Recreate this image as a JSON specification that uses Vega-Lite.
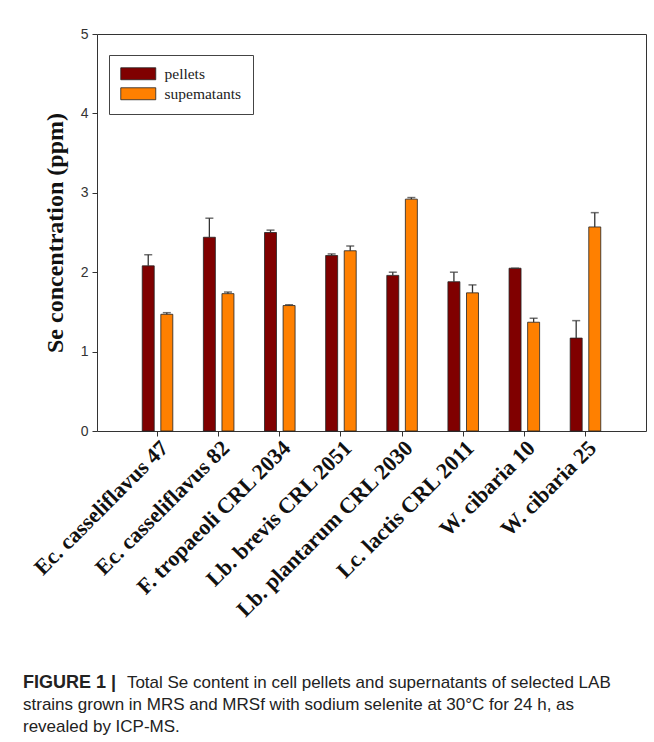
{
  "$schema": "https://vega.github.io/schema/vega-lite/v6.json",
  "autosize": {"type": "none"},
  "padding": {"left": 97, "top": 34, "right": 8, "bottom": 311},
  "width": 549,
  "height": 397,
  "background": "white",
  "data": {
    "values": [
      {"strain": "Ec. casseliflavus 47", "type": "pellets", "value": 2.08, "upper": 2.22},
      {"strain": "Ec. casseliflavus 47", "type": "supematants", "value": 1.47, "upper": 1.49},
      {"strain": "Ec. casseliflavus 82", "type": "pellets", "value": 2.44, "upper": 2.68},
      {"strain": "Ec. casseliflavus 82", "type": "supematants", "value": 1.73, "upper": 1.75},
      {"strain": "F. tropaeoli CRL 2034", "type": "pellets", "value": 2.5, "upper": 2.53},
      {"strain": "F. tropaeoli CRL 2034", "type": "supematants", "value": 1.58, "upper": 1.59},
      {"strain": "Lb. brevis CRL 2051", "type": "pellets", "value": 2.21, "upper": 2.23},
      {"strain": "Lb. brevis CRL 2051", "type": "supematants", "value": 2.27, "upper": 2.33},
      {"strain": "Lb. plantarum CRL 2030", "type": "pellets", "value": 1.96, "upper": 2.0},
      {"strain": "Lb. plantarum CRL 2030", "type": "supematants", "value": 2.92, "upper": 2.94},
      {"strain": "Lc. lactis CRL 2011", "type": "pellets", "value": 1.88, "upper": 2.0},
      {"strain": "Lc. lactis CRL 2011", "type": "supematants", "value": 1.74, "upper": 1.84},
      {"strain": "W. cibaria 10", "type": "pellets", "value": 2.05, "upper": 2.05},
      {"strain": "W. cibaria 10", "type": "supematants", "value": 1.37, "upper": 1.42},
      {"strain": "W. cibaria 25", "type": "pellets", "value": 1.17, "upper": 1.39},
      {"strain": "W. cibaria 25", "type": "supematants", "value": 2.57, "upper": 2.75}
    ]
  },
  "title": {
    "text": "FIGURE 1 |",
    "subtitle": [
      "\u200b\u2003\u2003\u2003\u2003\u2003\u00a0\u00a0\u00a0\u00a0Total Se content in cell pellets and supernatants of selected LAB",
      "strains grown in MRS and MRSf with sodium selenite at 30°C for 24 h, as",
      "revealed by ICP-MS."
    ],
    "orient": "bottom",
    "anchor": "start",
    "frame": "group",
    "dx": -74,
    "offset": 53,
    "font": "Liberation Sans",
    "fontSize": 18,
    "fontWeight": "bold",
    "color": "#222222",
    "subtitleFont": "Liberation Sans",
    "subtitleFontSize": 17,
    "subtitleFontWeight": "normal",
    "subtitleColor": "#222222",
    "subtitleLineHeight": 22,
    "subtitlePadding": -17.2
  },
  "encoding": {
    "x": {
      "field": "strain",
      "type": "nominal",
      "sort": null,
      "scale": {"paddingInner": 0.5, "paddingOuter": 0.74},
      "axis": {
        "title": null,
        "labelAngle": -45,
        "labelAlign": "right",
        "labelBaseline": "top",
        "labelFont": "Liberation Serif",
        "labelFontWeight": "bold",
        "labelFontSize": 22,
        "labelColor": "#111111",
        "labelPadding": 1,
        "labelOverlap": false,
        "labelLimit": 400,
        "tickColor": "#333333",
        "tickSize": 5,
        "domain": false
      }
    },
    "xOffset": {
      "field": "type",
      "type": "nominal",
      "sort": ["pellets", "supematants"],
      "scale": {"paddingInner": 0.355, "paddingOuter": 0}
    }
  },
  "layer": [
    {
      "mark": {"type": "bar", "stroke": "#222222", "strokeWidth": 0.8},
      "encoding": {
        "y": {
          "field": "value",
          "type": "quantitative",
          "scale": {"domain": [0, 5], "nice": false},
          "axis": {
            "title": "Se concentration (ppm)",
            "titleFont": "Liberation Serif",
            "titleFontWeight": "bold",
            "titleFontSize": 24,
            "titleColor": "#111111",
            "titlePadding": 13,
            "values": [0, 1, 2, 3, 4, 5],
            "format": "d",
            "labelFont": "Liberation Sans Narrow, Liberation Sans",
            "labelFontSize": 14,
            "labelColor": "#333333",
            "labelPadding": 4,
            "tickColor": "#333333",
            "tickSize": 5,
            "grid": false,
            "domain": false
          }
        },
        "color": {
          "field": "type",
          "type": "nominal",
          "sort": ["pellets", "supematants"],
          "scale": {"domain": ["pellets", "supematants"], "range": ["#800000", "#FF8000"]},
          "legend": {
            "title": null,
            "orient": "none",
            "legendX": 12,
            "legendY": 21,
            "symbolType": "M-1,-0.857H4V0.857H-1Z",
            "symbolSize": 196,
            "symbolStrokeColor": "#222222",
            "symbolStrokeWidth": 0.8,
            "symbolOpacity": 1,
            "rowPadding": 3,
            "labelFont": "Liberation Serif",
            "labelFontSize": 15.5,
            "labelColor": "#222222",
            "labelOffset": 29,
            "strokeColor": "#444444",
            "padding": 11
          }
        }
      }
    },
    {
      "mark": {"type": "rule", "color": "#333333", "strokeWidth": 1.3},
      "encoding": {
        "y": {"field": "value", "type": "quantitative"},
        "y2": {"field": "upper"}
      }
    },
    {
      "mark": {"type": "tick", "color": "#333333", "thickness": 1.5, "size": 8},
      "encoding": {
        "y": {"field": "upper", "type": "quantitative"}
      }
    }
  ],
  "config": {
    "view": {"stroke": "#333333", "strokeWidth": 1}
  }
}
